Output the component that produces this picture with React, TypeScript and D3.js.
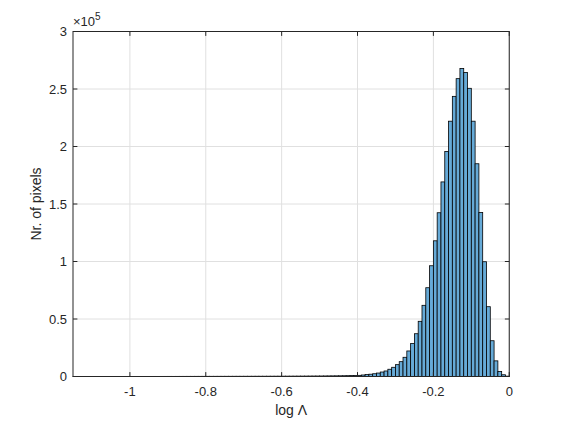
import React from "react";
import * as d3 from "d3";

// Histogram of log Λ, bin width 0.01, from -1.15 to 0
const binStartHundredths = -115; // first bin left edge, in hundredths
const binWidth = 0.01;
const counts: number[] = [
  // -1.15 .. -1.01
  30, 25, 35, 40, 30, 45, 40, 50, 45, 55, 50, 60, 55, 65, 60,
  // -1.00 .. -0.81
  70, 65, 75, 80, 75, 85, 90, 85, 95, 100, 105, 100, 110, 115, 120, 125, 130, 135, 140, 150,
  // -0.80 .. -0.61
  155, 160, 165, 170, 175, 180, 185, 190, 195, 200, 210, 215, 220, 230, 235, 240, 250, 255, 265, 275,
  // -0.60 .. -0.41
  285, 295, 305, 320, 335, 350, 365, 385, 405, 425, 450, 475, 505, 535, 570, 610, 655, 710, 780, 860,
  // -0.40 .. -0.01
  1000, 1300, 1700, 2000, 2400, 3000, 3900, 4800, 6300, 8000,
  10300, 12900, 16700, 22200, 28700, 37200, 48000, 61900, 77200, 96300,
  118000, 142400, 169200, 195700, 222000, 243600, 259000, 267900, 264400, 250600,
  222000, 185000, 142600, 99800, 60700, 31100, 13600, 4300, 1500, 300,
];

const xTicks = [-1, -0.8, -0.6, -0.4, -0.2, 0];
const xTickLabels = ["-1", "-0.8", "-0.6", "-0.4", "-0.2", "0"];
const yTicks = [0, 50000, 100000, 150000, 200000, 250000, 300000];
const yTickLabels = ["0", "0.5", "1", "1.5", "2", "2.5", "3"];

const W = 562;
const H = 422;
const left = 73;
const right = 509.25;
const top = 31.5;
const bottom = 376.5;
const tickLen = 4.4;
const axisColor = "#262626";
const gridColor = "#e0e0e0";
const font = "Arial, 'Liberation Sans', Helvetica, sans-serif";

export default function App() {
  const x = d3.scaleLinear().domain([-1.15, 0]).range([left, right]);
  const y = d3.scaleLinear().domain([0, 300000]).range([bottom, top]);

  const bins = counts.map((c, i) => {
    const x0 = (binStartHundredths + i) / 100;
    return { x0, x1: x0 + binWidth, c };
  });

  return (
    <svg
      width={W}
      height={H}
      style={{ position: "absolute", left: 0, top: 0, background: "#fff" }}
      fontFamily={font}
    >
      <rect x={0} y={0} width={W} height={H} fill="#fff" />
      {/* grid */}
      {xTicks.map((t) => (
        <line key={"gx" + t} x1={x(t)} x2={x(t)} y1={top} y2={bottom} stroke={gridColor} strokeWidth={1} />
      ))}
      {yTicks.map((t) => (
        <line key={"gy" + t} x1={left} x2={right} y1={y(t)} y2={y(t)} stroke={gridColor} strokeWidth={1} />
      ))}
      {/* bars */}
      {bins.map((b, i) => (
        <rect
          key={i}
          x={x(b.x0)}
          y={y(b.c)}
          width={x(b.x1) - x(b.x0)}
          height={y(0) - y(b.c)}
          fill="rgb(102,170,215)"
          stroke="#000"
          strokeWidth={0.8}
        />
      ))}
      {/* axes box */}
      <rect x={left} y={top} width={right - left} height={bottom - top} fill="none" stroke={axisColor} strokeWidth={1} />
      {/* x ticks */}
      {xTicks.map((t, i) => (
        <g key={"xt" + t}>
          <line x1={x(t)} x2={x(t)} y1={bottom} y2={bottom - tickLen} stroke={axisColor} />
          <line x1={x(t)} x2={x(t)} y1={top} y2={top + tickLen} stroke={axisColor} />
          <text x={x(t)} y={396} textAnchor="middle" fontSize={13} fill={axisColor}>
            {xTickLabels[i]}
          </text>
        </g>
      ))}
      {/* y ticks */}
      {yTicks.map((t, i) => (
        <g key={"yt" + t}>
          <line x1={left} x2={left + tickLen} y1={y(t)} y2={y(t)} stroke={axisColor} />
          <line x1={right} x2={right - tickLen} y1={y(t)} y2={y(t)} stroke={axisColor} />
          <text x={67} y={y(t) + 4.5} textAnchor="end" fontSize={13} fill={axisColor}>
            {yTickLabels[i]}
          </text>
        </g>
      ))}
      {/* exponent */}
      <text x={73} y={26} fontSize={13} fill={axisColor}>
        ×10
        <tspan fontSize={10} dy={-6}>5</tspan>
      </text>
      {/* labels */}
      <text x={(left + right) / 2} y={415} textAnchor="middle" fontSize={14} fill={axisColor}>
        log Λ
      </text>
      <text
        transform={`translate(41, ${(top + bottom) / 2}) rotate(-90)`}
        textAnchor="middle"
        fontSize={14}
        fill={axisColor}
      >
        Nr. of pixels
      </text>
    </svg>
  );
}
